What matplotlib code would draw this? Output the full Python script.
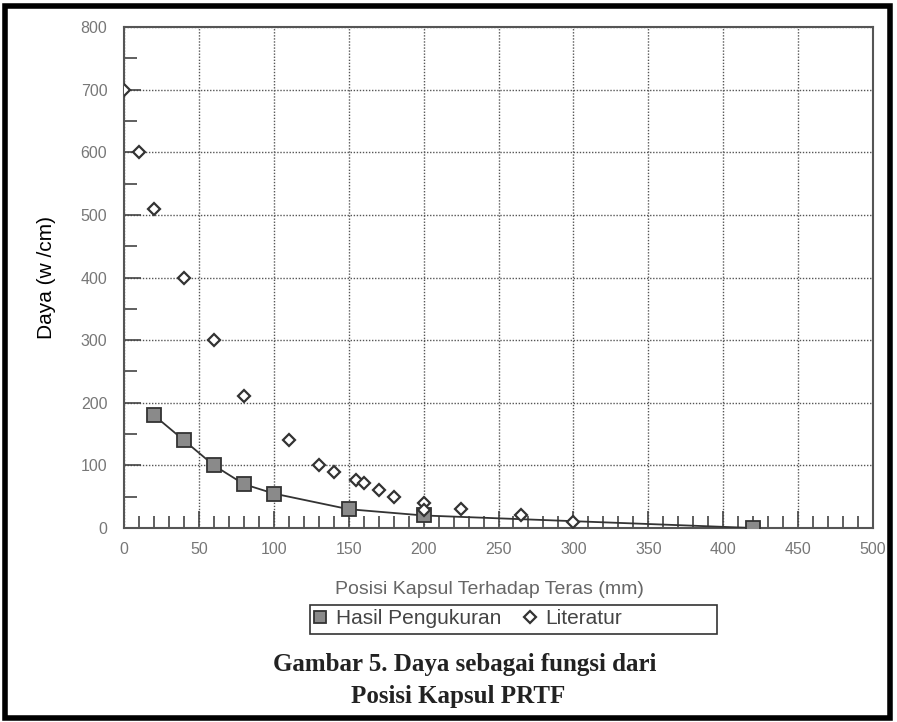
import matplotlib
matplotlib.use("Agg")
import matplotlib.pyplot as plt
from matplotlib.ticker import MultipleLocator
from matplotlib.lines import Line2D
from matplotlib.patches import Rectangle

# Data
hasil_x = [20, 40, 60, 80, 100, 150, 200, 420]
hasil_y = [180, 140, 100, 70, 55, 30, 20, 0]
lit_x = [0, 10, 20, 40, 60, 80, 110, 130, 140, 155, 160, 170, 180, 200, 200, 225, 265, 300]
lit_y = [700, 600, 510, 400, 300, 210, 140, 100, 90, 77, 72, 60, 50, 40, 28, 30, 20, 10]
x_ticks = [0, 50, 100, 150, 200, 250, 300, 350, 400, 450, 500]
y_ticks = [0, 100, 200, 300, 400, 500, 600, 700, 800]

plt.rcParams['font.family'] = ['Liberation Sans', 'DejaVu Sans']

fig = plt.figure(figsize=(8.97, 7.22), dpi=100)
ax = fig.add_axes([124/897, 1-528/722, (873-124)/897, (528-27)/722])

ax.plot(hasil_x, hasil_y, color='#333333', lw=1.3, marker='s', ms=10,
        mfc='#8a8a8a', mec='#333333', mew=1.3, zorder=3)
ax.plot(lit_x, lit_y, ls='none', marker='D', ms=6.5, mfc='white',
        mec='#333333', mew=1.6, zorder=4)

ax.set_xlim(0, 500)
ax.set_ylim(0, 800)
ax.set_xticks(x_ticks)
ax.set_yticks(y_ticks)
ax.xaxis.set_minor_locator(MultipleLocator(10))
ax.yaxis.set_minor_locator(MultipleLocator(50))
ax.tick_params(axis='both', which='major', labelsize=11.5, labelcolor='#777777',
               direction='in', length=12, color='#444444', width=1.2)
ax.tick_params(axis='x', which='major', pad=10)
ax.tick_params(axis='y', which='major', pad=12)
ax.tick_params(axis='both', which='minor', direction='in', length=9,
               color='#444444', width=1.2)
ax.grid(True, which='major', color='#555555', ls=(0, (1, 1.2)), lw=1.0)
for s in ax.spines.values():
    s.set_color('#555555')
    s.set_linewidth(1.5)

ax.set_ylabel('Daya (w /cm)', fontsize=15, color='black', labelpad=18)
fig.text(489/897, 1-590/722, 'Posisi Kapsul Terhadap Teras (mm)', fontsize=14,
         color='#666666', ha='center', va='center')

handles = [
    Line2D([], [], ls='none', marker='s', ms=9, mfc='#8a8a8a', mec='#333333', mew=1.3),
    Line2D([], [], ls='none', marker='D', ms=6.5, mfc='white', mec='#333333', mew=1.6),
]
leg = fig.legend(handles, ['Hasil Pengukuran', 'Literatur'], ncol=2,
                 loc='center left', bbox_to_anchor=(309/897, 1-619/722),
                 fontsize=15, frameon=False, handlelength=0.7,
                 handletextpad=0.4, columnspacing=1.0, borderpad=0.2,
                 borderaxespad=0)
for t in leg.get_texts():
    t.set_color('#444444')
fig.patches.append(Rectangle((310/897, 1-634/722), 407/897, 29/722,
                             transform=fig.transFigure, fill=False,
                             edgecolor='#333333', lw=1.2))

fig.text(465/897, 1-664/722, 'Gambar 5. Daya sebagai fungsi dari', fontsize=18,
         fontweight='bold', family='Liberation Serif', ha='center', va='center',
         color='#222222')
fig.text(458/897, 1-696/722, 'Posisi Kapsul PRTF', fontsize=18,
         fontweight='bold', family='Liberation Serif', ha='center', va='center',
         color='#222222')

# outer border
fig.patches.append(Rectangle((5/897, 4/722), 885/897, 712/722, transform=fig.transFigure,
                             fill=False, edgecolor='black', lw=4))

fig.savefig('out.png', dpi=100)
